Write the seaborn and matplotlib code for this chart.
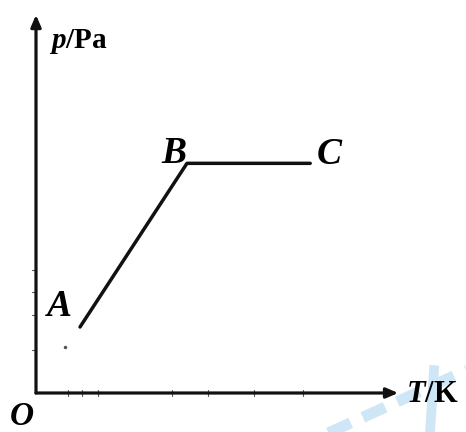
import matplotlib
matplotlib.use("Agg")
import matplotlib.pyplot as plt
import seaborn as sns
import pandas as pd

# Data (arbitrary units)
points = ["A", "B", "C"]
T_vals = [1.0, 3.43, 6.23]
p_vals = [1.0, 3.48, 3.48]
x_label = "T/K"
y_label = "p/Pa"

sns.set_style("white")
plt.rcParams["mathtext.fontset"] = "custom"
plt.rcParams["mathtext.it"] = "Liberation Serif:italic:bold"
plt.rcParams["mathtext.rm"] = "Liberation Serif:bold"
plt.rcParams["text.color"] = "black"

fig = plt.figure(figsize=(4.66, 4.32), dpi=100)
ax = fig.add_axes([0, 0, 1, 1])
ax.set_xlim(-0.818, 9.77)
ax.set_ylim(-0.591, 5.955)
ax.axis("off")

df = pd.DataFrame({"T": T_vals, "p": p_vals, "pt": points})
sns.lineplot(data=df, x="T", y="p", sort=False, color="#111111", lw=2.5, ax=ax,
             legend=False)

# axes with arrows
arrow = dict(arrowstyle="-|>,head_length=0.7,head_width=0.3", color="#111111", lw=2.3,
             shrinkA=0, shrinkB=0)
ax.annotate("", xy=(8.23, 0), xytext=(0, 0), arrowprops=arrow)
ax.annotate("", xy=(0, 5.73), xytext=(0, 0), arrowprops=arrow)

serif = "Liberation Serif"
ax.text(0.3, 5.32, y_label.replace("p", "$p$", 1), fontsize=21, fontweight="bold",
        family=serif, ha="left", va="center", color="black")
ax.text(8.4, -0.02, x_label.replace("T", "$T$", 1), fontsize=22, fontweight="bold",
        family=serif, ha="left", va="center", color="black")
ax.text(-0.32, -0.34, r"$O$", fontsize=24, ha="center", va="center", color="black")

offsets = {"A": (-0.48, 0.32), "B": (-0.29, 0.15), "C": (0.45, 0.14)}
for name, t, p in zip(points, T_vals, p_vals):
    dx, dy = offsets[name]
    ax.text(t + dx, p + dy, "$" + name + "$", fontsize=27, ha="center", va="center",
            color="black")

# faint scan marks on the axes
for yy in [1.86, 1.53, 1.18, 0.65]:
    ax.plot([-0.08, 0.0], [yy, yy], color="#555555", lw=0.8)
for xx in [0.73, 1.05, 1.41, 3.1, 3.9, 4.95, 6.07]:
    ax.plot([xx, xx], [-0.04, 0.04], color="#555555", lw=0.8)
ax.plot([0.66], [0.70], marker="o", ms=1.5, color="#555555")

# light blue watermark stripes
wm = "#cfe6f6"
ax.plot([6.6, 9.8], [-0.62, 0.35], color=wm, lw=8, ls=(0, (2.2, 1.2)),
        solid_capstyle="butt", zorder=0)
ax.plot([8.95, 9.05], [-0.62, 0.42], color=wm, lw=7, solid_capstyle="butt", zorder=0)

fig.savefig("out.png", dpi=100)
